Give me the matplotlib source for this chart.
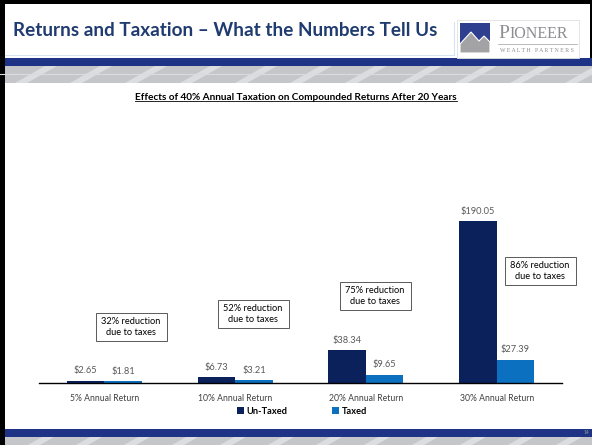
import numpy as np
import matplotlib.pyplot as plt
import matplotlib.patches as mpatches
from matplotlib.lines import Line2D

# %% Data

categories = ['5% Annual Return', '10% Annual Return', '20% Annual Return', '30% Annual Return']
untaxed = [2.65, 6.73, 38.34, 190.05]
taxed = [1.81, 3.21, 9.65, 27.39]
reductions = ['32%', '52%', '75%', '86%']

# %% Figure and slide decoration (pixel coordinates on a background axes)

W, H = 592, 445
fig = plt.figure(figsize=(W / 100, H / 100), dpi=100)
fig.patch.set_facecolor('white')
plt.rcParams['font.family'] = ['Lato', 'DejaVu Sans']

bg = fig.add_axes([0, 0, 1, 1])
bg.set_xlim(0, W)
bg.set_ylim(H, 0)
bg.axis('off')

navy = '#1F3386'
# top bands
bg.add_patch(mpatches.Rectangle((0, 58), W, 8, color=navy, lw=0))
bg.add_patch(mpatches.Rectangle((0, 66), W, 17, color='#C4C6CA', lw=0))
for x0 in range(-40, W, 55):
    bg.add_patch(mpatches.Polygon([(x0, 83), (x0 + 30, 66), (x0 + 42, 66), (x0 + 12, 83)],
                                  color='#E2E3E6', lw=0, alpha=0.8))
bg.plot([0, W], [74, 74], color='#DADBDE', lw=0.8)
# bottom bands
bg.add_patch(mpatches.Rectangle((0, 429), W, 8, color=navy, lw=0))
bg.add_patch(mpatches.Rectangle((0, 437), W, 8, color='#C4C6CA', lw=0))
for x0 in range(-20, W, 48):
    bg.add_patch(mpatches.Polygon([(x0, 445), (x0 + 14, 437), (x0 + 26, 437), (x0 + 12, 445)],
                                  color='#E2E3E6', lw=0, alpha=0.8))
# black frame
bg.add_patch(mpatches.Rectangle((0, 0), 5, H, color='black', lw=0))
bg.add_patch(mpatches.Rectangle((0, 0), W, 4, color='black', lw=0))
bg.add_patch(mpatches.Rectangle((W - 2, 0), 2, 58, color='black', lw=0))
# faint title placeholder lines
bg.plot([5, 454], [55, 55], color='#D6E4F0', lw=0.8)
bg.plot([454, 454], [22, 55], color='#D6E4F0', lw=0.8)

# logo
bg.add_patch(mpatches.Rectangle((457, 20), 122, 38, facecolor='white', edgecolor='#E0E0E0', lw=0.6))
bg.add_patch(mpatches.Rectangle((460, 23), 30, 30, color='#2E3F8F', lw=0))
bg.add_patch(mpatches.Polygon([(460, 53), (460, 44), (471, 32), (479, 41), (484, 36), (490, 42), (490, 53)],
                              facecolor='#A3A3A6', edgecolor='white', lw=0.8))
bg.text(498, 38, 'P', fontsize=14, color='#8E8E92', family='Liberation Serif', va='baseline')
bg.text(509, 38, 'IONEER', fontsize=11.5, color='#8E8E92', family='Liberation Serif', va='baseline')
bg.plot([498, 577], [44, 44], color='#B0B0B4', lw=0.6)
bg.text(537, 50.5, 'W E A L T H   P A R T N E R S', fontsize=4.2, color='#8E8E92',
        family='Liberation Serif', ha='center', va='center')

# slide title
fig.text(13 / W, 1 - 30 / H, 'Returns and Taxation \u2013 What the Numbers Tell Us',
         fontsize=13.6, weight='bold', color='#1F3B70', va='center', ha='left')
bg.text(589, 433, '14', fontsize=3.5, color='#9A9A9A', ha='right', va='center')

# %% Chart

px_per_unit = 0.852
base_y, top_y = 383, 110
ax = fig.add_axes([39 / W, 1 - base_y / H, (562 - 39) / W, (base_y - top_y) / H])
ax.patch.set_alpha(0)

x = np.arange(len(categories))
width = 0.287
b1 = ax.bar(x - width / 2, untaxed, width, color='#0A215C', label='Un-Taxed')
b2 = ax.bar(x + width / 2, taxed, width, color='#0B70C0', label='Taxed')

for bars in (b1, b2):
    for rect in bars:
        h = rect.get_height()
        ax.annotate('${:.2f}'.format(h), (rect.get_x() + rect.get_width() / 2, h),
                    xytext=(0, 4), textcoords='offset points', ha='center', va='bottom',
                    fontsize=6.7, color='#595959')

ax.set_xlim(-0.5, len(categories) - 0.5)
ax.set_ylim(0, (base_y - top_y) / px_per_unit)
ax.set_yticks([])
ax.set_xticks(x)
ax.set_xticklabels(categories, fontsize=6.2, color='#404040')
ax.tick_params(axis='x', length=0, pad=8)
for s in ['top', 'right', 'left']:
    ax.spines[s].set_visible(False)
ax.spines['bottom'].set_color('black')
ax.spines['bottom'].set_linewidth(1)

# reduction boxes (pixel centres)
box_centres = [(131, 327), (253, 314), (375, 296), (540, 271)]
for (cx, cy), r in zip(box_centres, reductions):
    bg.add_patch(mpatches.Rectangle((cx - 35.5, cy - 14), 71, 28, facecolor='white',
                                    edgecolor='#595959', lw=0.7))
    bg.text(cx, cy, r + ' reduction\ndue to taxes', ha='center', va='center',
            fontsize=6.7, color='black', linespacing=1.35)

# chart title, underlined
ct = fig.text(296 / W, 1 - 97 / H, 'Effects of 40% Annual Taxation on Compounded Returns After 20 Years',
              ha='center', va='center', fontsize=7.2, weight='bold', color='black')
fig.canvas.draw()
bb = ct.get_window_extent().transformed(fig.transFigure.inverted())
fig.add_artist(Line2D([bb.x0, bb.x1], [bb.y0 + 0.002, bb.y0 + 0.002], color='black', lw=0.6,
                      transform=fig.transFigure))

leg = fig.legend(handles=[b1, b2], loc='center', bbox_to_anchor=(302 / W, 1 - 411 / H), ncol=2,
                 frameon=False, handlelength=0.7, handleheight=0.7, handletextpad=0.3,
                 columnspacing=4.8, prop={'size': 6.7, 'weight': 'bold'})

plt.savefig('out.png', dpi=100)
